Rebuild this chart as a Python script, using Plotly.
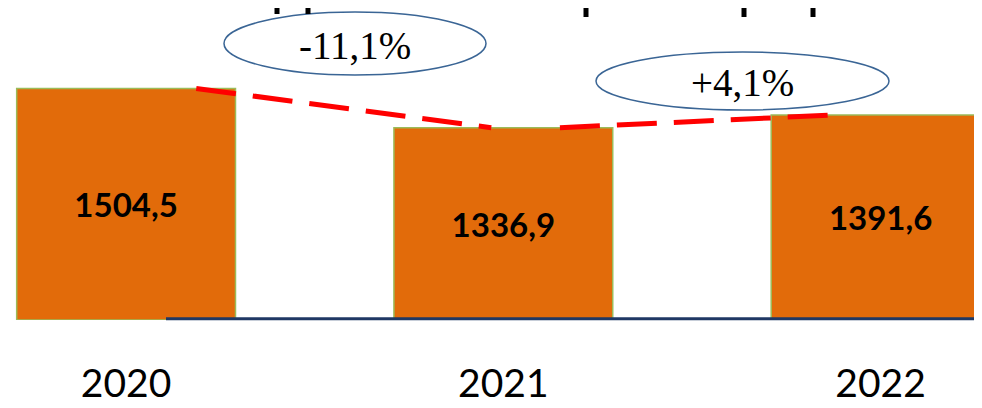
import plotly.graph_objects as go

# ---- data ----
years = [2020, 2021, 2022]
values = [1504.5, 1336.9, 1391.6]
value_labels = ["1504,5", "1336,9", "1391,6"]
year_labels = ["2020", "2021", "2022"]

# ---- layout constants ----
W, H = 982, 408
PLOT_H = 312          # plot area height (t=0)
Y_MIN, Y_MAX = 516, 1848
X_MIN, X_MAX = 2019.687, 2022.290
BAR_W = 0.58
ORANGE = "#E26B0A"
GREEN = "#9BBB59"
NAVY = "#1F3864"
ELL = "#3A6595"


def px_to_paper_y(py):
    return 1 - py / PLOT_H


def px_to_paper_x(px):
    return px / W


def pct(a, b):
    p = (b - a) / a * 100
    return f"{p:+.1f}%".replace(".", ",")


fig = go.Figure()

fig.add_trace(go.Bar(
    x=years,
    y=[v - Y_MIN for v in values],
    base=Y_MIN,
    width=BAR_W,
    marker=dict(color=ORANGE, line=dict(color=GREEN, width=1.5)),
    text=value_labels,
    textposition="inside",
    insidetextanchor="middle",
    textangle=0,
    textfont=dict(family="Lato", size=33, color="black", weight="bold"),
    hoverinfo="skip",
    cliponaxis=False,
))

# dashed change lines between bar tops
start_off = [0.186, 0.150]
end_off = [0.032, 0.121]
for i in range(len(years) - 1):
    fig.add_trace(go.Scatter(
        x=[years[i] + start_off[i], years[i + 1] - end_off[i]],
        y=[values[i], values[i + 1]],
        mode="lines",
        line=dict(color="#FF0000", width=5, dash="40px,17px"),
        hoverinfo="skip",
        showlegend=False,
    ))

shapes = []
annotations = []

# ellipses with percentage change
ellipses = [  # (cx, cy, rx, ry) in pixels
    (347, 35.5, 131, 31.5),
    (734.5, 73, 146.5, 29),
]
for i, (cx, cy, rx, ry) in enumerate(ellipses):
    shapes.append(dict(
        type="circle", xref="paper", yref="paper",
        x0=px_to_paper_x(cx - rx), x1=px_to_paper_x(cx + rx),
        y0=px_to_paper_y(cy + ry), y1=px_to_paper_y(cy - ry),
        line=dict(color=ELL, width=1.5), fillcolor="rgba(0,0,0,0)",
        layer="above",
    ))
    annotations.append(dict(
        text=pct(values[i], values[i + 1]),
        xref="paper", yref="paper",
        x=px_to_paper_x(cx), y=px_to_paper_y(cy + 1.5),
        xanchor="center", yanchor="middle", showarrow=False,
        font=dict(family="Liberation Serif", size=39, color="black"),
    ))

# baseline line
shapes.append(dict(
    type="line", xref="paper", yref="paper",
    x0=px_to_paper_x(158), x1=1, y0=px_to_paper_y(310.7), y1=px_to_paper_y(310.7),
    line=dict(color=NAVY, width=3), layer="above",
))

# cut-off fragments of a title at the very top
for (mx, mh) in [(269, 6), (300, 6), (578, 9), (736, 9), (805, 9)]:
    shapes.append(dict(
        type="rect", xref="paper", yref="paper",
        x0=px_to_paper_x(mx - 2.5), x1=px_to_paper_x(mx + 2.5),
        y0=px_to_paper_y(mh), y1=px_to_paper_y(0),
        fillcolor="black", line=dict(width=0), layer="above",
    ))

fig.update_layout(
    width=W, height=H,
    margin=dict(l=0, r=0, t=0, b=H - PLOT_H),
    paper_bgcolor="white", plot_bgcolor="white",
    showlegend=False,
    shapes=shapes,
    annotations=annotations,
    xaxis=dict(
        range=[X_MIN, X_MAX], tickvals=years, ticktext=year_labels,
        showgrid=False, zeroline=False, showline=False, ticks="",
        tickfont=dict(family="Lato", size=39, color="black"),
        ticklabelstandoff=37,
    ),
    yaxis=dict(range=[Y_MIN, Y_MAX], visible=False, showgrid=False, zeroline=False),
)

fig.write_html("out.html")
